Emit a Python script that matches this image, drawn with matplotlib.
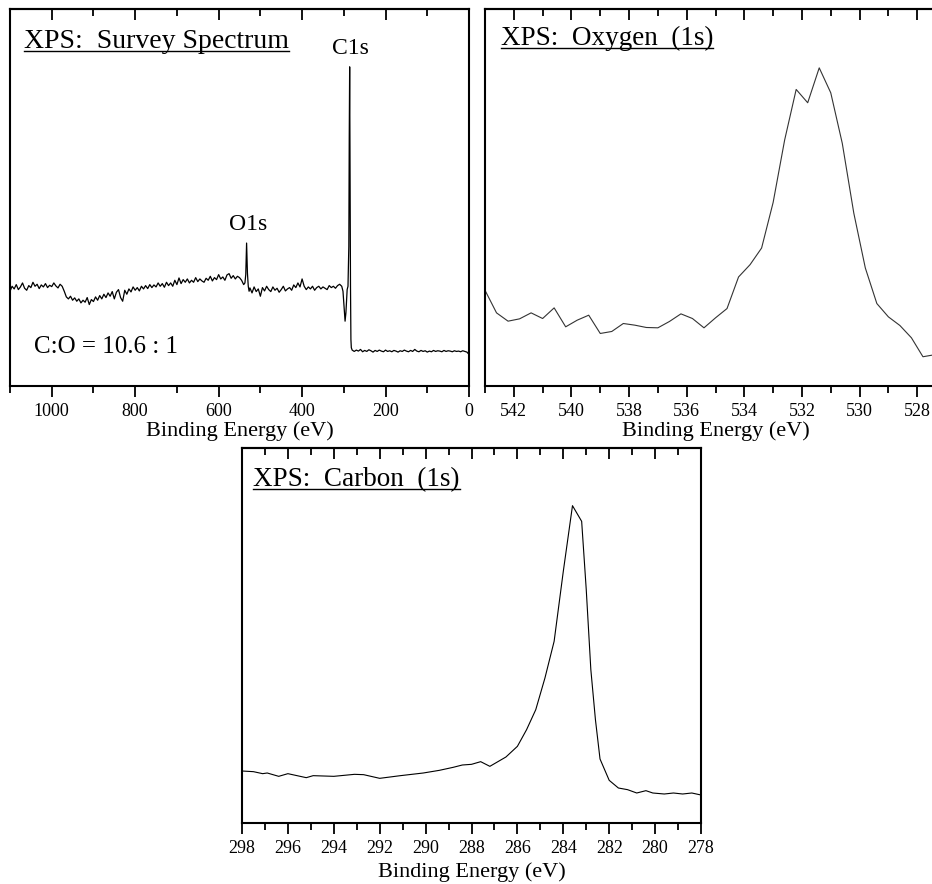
import matplotlib
matplotlib.use("Agg")
import matplotlib.pyplot as plt
from matplotlib.lines import Line2D
from matplotlib.ticker import MultipleLocator, NullLocator

plt.rcParams['font.family'] = ['Liberation Serif', 'DejaVu Serif']

# survey spectrum (binding energy, intensity a.u.)
survey_e = [1100, 1095, 1090, 1085, 1080, 1075, 1070, 1065, 1060, 1055,
            1050, 1045, 1040, 1035, 1030, 1025, 1020, 1015, 1010, 1005,
            1000, 995, 990, 985, 980, 975, 970, 965, 960, 955,
            950, 945, 940, 935, 930, 925, 920, 915, 910, 905,
            900, 895, 890, 885, 880, 875, 870, 865, 860, 855,
            850, 845, 840, 835, 830, 825, 820, 815, 810, 805,
            800, 795, 790, 785, 780, 775, 770, 765, 760, 755,
            750, 745, 740, 735, 730, 725, 720, 715, 710, 705,
            700, 695, 690, 685, 680, 675, 670, 665, 660, 655,
            650, 645, 640, 635, 630, 625, 620, 615, 610, 605,
            600, 595, 590, 585, 580, 575, 570, 565, 560, 555,
            550, 545, 540, 537, 535, 533, 531, 529, 527,
            525, 520, 515, 510, 505, 500, 495, 490, 485, 480, 475,
            470, 465, 460, 455, 450, 445, 440, 435, 430, 425,
            420, 415, 410, 405, 400, 395, 390, 385, 380, 375,
            370, 365, 360, 355, 350, 345, 340, 335, 330, 325,
            320, 315, 310, 305, 302, 299, 297, 295, 292, 290,
            288, 287, 286, 285, 284, 283, 282, 280,
            275, 270, 265, 260, 255, 250, 245, 240, 235, 230,
            225, 220, 215, 210, 205, 200, 195, 190, 185, 180,
            175, 170, 165, 160, 155, 150, 145, 140, 135, 130,
            125, 120, 115, 110, 105, 100, 95, 90, 85, 80,
            75, 70, 65, 60, 55, 50, 45, 40, 35, 30,
            25, 20, 15, 10, 5, 0]
survey_i = [285, 300, 292, 305, 290, 298, 310, 294, 288, 302,
            296, 312, 300, 306, 293, 304, 298, 308, 296, 303,
            299, 310, 301, 295, 306, 300, 285, 268, 262, 270,
            258, 265, 255, 262, 250, 258, 252, 266, 245, 260,
            254, 268, 258, 272, 262, 276, 266, 280, 270, 284,
            262, 282, 290, 266, 255, 288, 276, 292, 283, 298,
            288, 296, 286, 300, 292, 302, 293, 305, 296, 304,
            298, 310, 300, 308, 297, 312, 302, 310, 300, 318,
            305, 325, 308, 320, 312, 322, 310, 318, 312, 326,
            314, 322, 316, 312, 324, 318, 330, 316, 326, 320,
            335, 322, 328, 318, 334, 338, 324, 332, 322, 330,
            326, 318, 305, 310, 335, 430, 340, 300, 285,
            295, 280, 298, 284, 292, 270, 296, 286, 300, 290, 284,
            298, 288, 294, 282, 290, 300, 286, 292, 296, 288,
            304, 296, 310, 298, 322, 300, 290, 298, 292, 300,
            288, 296, 300, 292, 298, 294, 290, 302, 296, 300,
            294, 302, 306, 300, 285, 230, 195, 220, 290, 300,
            420, 745, 960, 620, 300, 140, 115, 108,
            104, 108, 105, 110, 103, 107, 104, 109, 106, 102,
            107, 104, 108, 105, 103, 108, 104, 106, 103, 107,
            105, 102, 106, 104, 108, 105, 103, 107, 104, 110,
            105, 103, 107, 104, 106, 102, 105, 103, 107, 104,
            106, 105, 103, 107, 104, 106, 105, 103, 106, 104,
            105, 103, 106, 104, 102, 95]

# O 1s region
oxy_e = [543.0, 542.6, 542.2, 541.8, 541.4, 541.0, 540.6, 540.2, 539.8, 539.4,
         539.0, 538.6, 538.2, 537.8, 537.4, 537.0, 536.6, 536.2, 535.8, 535.4,
         535.0, 534.6, 534.2, 533.8, 533.4, 533.0, 532.6, 532.2, 531.8, 531.4,
         531.0, 530.6, 530.2, 529.8, 529.4, 529.0, 528.6, 528.2, 527.8, 527.4]
oxy_i = [288, 220, 195, 202, 220, 203, 235, 178, 198, 213,
         158, 164, 188, 183, 176, 175, 194, 217, 203, 175,
         205, 233, 328, 365, 415, 552, 740, 892, 852, 957,
         882, 730, 520, 355, 248, 208, 182, 145, 88, 94]

# C 1s region
carb_e = [298.0, 297.5, 297.1, 296.9, 296.4, 296.0, 295.2, 294.9, 294.0, 293.1,
          292.7, 292.0, 291.1, 290.1, 289.4, 288.8, 288.4, 288.0, 287.6, 287.2,
          286.5, 286.0, 285.6, 285.2, 284.8, 284.4, 284.0, 283.6, 283.2, 283.0,
          282.8, 282.6, 282.4, 282.0, 281.6, 281.2, 280.8, 280.4, 280.1, 279.6,
          279.2, 278.8, 278.4, 278.0]
carb_i = [156, 154, 148, 150, 140, 148, 136, 142, 140, 146,
          145, 134, 142, 150, 158, 167, 174, 176, 184, 170,
          198, 230, 280, 340, 435, 545, 755, 952, 905, 700,
          460, 310, 192, 128, 105, 100, 90, 97, 90, 87,
          90, 87, 90, 84]

W, H = 932, 884
fig = plt.figure(figsize=(W / 100, H / 100), dpi=100)


def px_axes(left, top, right, bottom):
    return fig.add_axes([left / W, 1 - bottom / H, (right - left) / W, (bottom - top) / H])


def style(ax, major, minor, lpad=2):
    for s in ax.spines.values():
        s.set_linewidth(1.5)
    ax.yaxis.set_major_locator(NullLocator())
    ax.xaxis.set_major_locator(MultipleLocator(major))
    ax.xaxis.set_minor_locator(MultipleLocator(minor))
    ax.tick_params(axis='x', which='both', direction='out', width=1.3, labelsize=13, pad=4)
    ax.tick_params(axis='x', which='major', length=8)
    ax.tick_params(axis='x', which='minor', length=5)
    sec = ax.secondary_xaxis('top')
    sec.xaxis.set_major_locator(MultipleLocator(major))
    sec.xaxis.set_minor_locator(MultipleLocator(minor))
    sec.tick_params(axis='x', which='both', direction='in', width=1.3, labeltop=False)
    sec.tick_params(axis='x', which='major', length=8)
    sec.tick_params(axis='x', which='minor', length=5)
    sec.spines['top'].set_linewidth(1.5)
    ax.set_xlabel('Binding Energy (eV)', fontsize=16, labelpad=lpad)


titles = []

# survey
ax1 = px_axes(10, 9, 469, 386)
ax1.plot(survey_e, survey_i, color='black', lw=0.9)
ax1.set_xlim(1100, 0)
ax1.set_ylim(0, 1134)
style(ax1, 200, 100, lpad=1)
titles.append(ax1.text(0.0305, 0.8976, 'XPS:  Survey Spectrum', transform=ax1.transAxes,
                       fontsize=20, va='baseline'))
ax1.text(283, 1000, 'C1s', ha='center', va='baseline', fontsize=17)
ax1.text(530, 470, 'O1s', ha='center', va='baseline', fontsize=17)
ax1.text(0.053, 0.087, 'C:O = 10.6 : 1', transform=ax1.transAxes, fontsize=18, va='baseline')

# oxygen
ax2 = px_axes(485, 9, 946, 386)
ax2.plot(oxy_e, oxy_i, color='#333333', lw=0.8)
ax2.set_xlim(543, 527)
ax2.set_ylim(0, 1134)
style(ax2, 2, 1, lpad=1)
titles.append(ax2.text(0.0347, 0.905, 'XPS:  Oxygen  (1s)', transform=ax2.transAxes,
                       fontsize=19.5, va='baseline'))

# carbon
ax3 = px_axes(242, 448, 701, 823)
ax3.plot(carb_e, carb_i, color='black', lw=0.8)
ax3.set_xlim(298, 278)
ax3.set_ylim(0, 1125)
style(ax3, 2, 1, lpad=4)
titles.append(ax3.text(0.024, 0.8995, 'XPS:  Carbon  (1s)', transform=ax3.transAxes,
                       fontsize=19.5, va='baseline'))

# underline the panel titles
fig.canvas.draw()
for t in titles:
    bb = t.get_window_extent()
    x0, y0 = t.get_transform().transform(t.get_position())
    yl = y0 - 3
    fig.add_artist(Line2D([bb.x0 / W, bb.x1 / W], [yl / H, yl / H],
                          transform=fig.transFigure, color='black', lw=1.0))

fig.savefig('out.png', dpi=100)
